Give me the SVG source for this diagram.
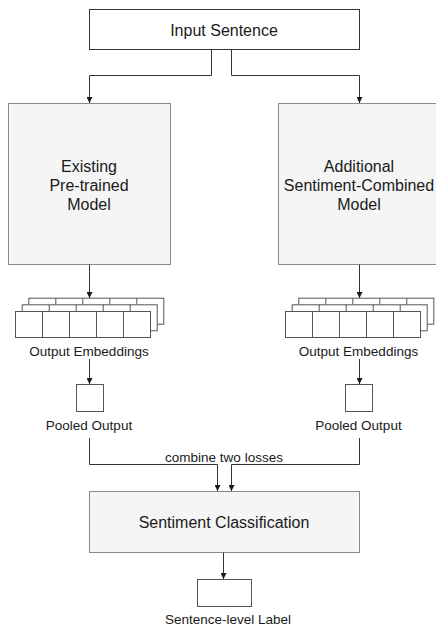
<svg xmlns="http://www.w3.org/2000/svg" width="436" height="625" viewBox="0 0 436 625">
<defs>
<style>
text{font-family:"Liberation Sans",Arial,sans-serif;fill:#1a1a1a;text-anchor:middle;dominant-baseline:central}
.big{font-size:16px}
.sm{font-size:13.5px}
.model{fill:#f5f5f5;stroke:#8a8a8a;stroke-width:1}
.plain{fill:#ffffff;stroke:#333333;stroke-width:1}
.cell{fill:#ffffff;stroke:#555555;stroke-width:1}
.conn{fill:none;stroke:#333333;stroke-width:1}
</style>
<marker id="arr" markerWidth="6" markerHeight="6" refX="6" refY="3" orient="auto" markerUnits="userSpaceOnUse">
<path d="M0,0 L6,3 L0,6 Z" fill="#1a1a1a"/>
</marker>
<g id="stack">
<rect class="cell" x="13.3" y="-13.3" width="135" height="26"/>
<path class="cell" d="M40.3,-13.3V-7 M67.3,-13.3V-7 M94.3,-13.3V-7 M121.3,-13.3V-7"/>
<rect class="cell" x="6.7" y="-6.7" width="135" height="26"/>
<path class="cell" d="M33.7,-6.7V0 M60.7,-6.7V0 M87.7,-6.7V0 M114.7,-6.7V0"/>
<rect class="cell" x="0" y="0" width="27" height="26"/>
<rect class="cell" x="27" y="0" width="27" height="26"/>
<rect class="cell" x="54" y="0" width="27" height="26"/>
<rect class="cell" x="81" y="0" width="27" height="26"/>
<rect class="cell" x="108" y="0" width="27" height="26"/>
</g>
</defs>
<rect width="436" height="625" fill="#ffffff"/>

<g id="input">
<rect class="plain" x="89.5" y="9.5" width="270" height="40"/>
<text class="big" x="224" y="30">Input Sentence</text>
</g>

<g id="model-left">
<rect class="model" x="8.5" y="103.5" width="162" height="161"/>
<text class="big" x="89" y="166">Existing</text>
<text class="big" x="89" y="185">Pre-trained</text>
<text class="big" x="89" y="204">Model</text>
</g>

<g id="model-right">
<rect class="model" x="278.5" y="103.5" width="162" height="161"/>
<text class="big" x="359" y="166">Additional</text>
<text class="big" x="359" y="185">Sentiment-Combined</text>
<text class="big" x="359" y="204">Model</text>
</g>

<g id="emb-left">
<use href="#stack" x="15.5" y="311.5"/>
<text class="sm" x="89" y="351">Output Embeddings</text>
</g>

<g id="emb-right">
<use href="#stack" x="285.5" y="311.5"/>
<text class="sm" x="358.5" y="351">Output Embeddings</text>
</g>

<g id="pool-left">
<rect class="cell" x="76.5" y="384.5" width="27" height="27"/>
<text class="sm" x="89" y="425">Pooled Output</text>
</g>

<g id="pool-right">
<rect class="cell" x="345.5" y="384.5" width="27" height="27"/>
<text class="sm" x="358.5" y="425">Pooled Output</text>
</g>

<g id="classify">
<rect class="model" x="89.5" y="491.5" width="270" height="61"/>
<text class="big" x="224" y="522">Sentiment Classification</text>
</g>

<g id="label">
<rect class="cell" x="197.5" y="579.5" width="54" height="27"/>
<text class="sm" x="228" y="619">Sentence-level Label</text>
</g>

<g id="connectors">
<path class="conn" d="M211.5,49.5V75.5H89.5V103" marker-end="url(#arr)"/>
<path class="conn" d="M231.5,49.5V75.5H359.5V103" marker-end="url(#arr)"/>
<path class="conn" d="M89.5,264.5V298" marker-end="url(#arr)"/>
<path class="conn" d="M359.5,264.5V298" marker-end="url(#arr)"/>
<path class="conn" d="M89.5,359V384" marker-end="url(#arr)"/>
<path class="conn" d="M359.5,359V384" marker-end="url(#arr)"/>
<path class="conn" d="M89.5,438V464.5H217.5V491" marker-end="url(#arr)"/>
<path class="conn" d="M359.5,438V464.5H231.5V491" marker-end="url(#arr)"/>
<path class="conn" d="M223.5,552.5V579" marker-end="url(#arr)"/>
<text class="sm" x="224" y="457">combine two losses</text>
</g>
</svg>
